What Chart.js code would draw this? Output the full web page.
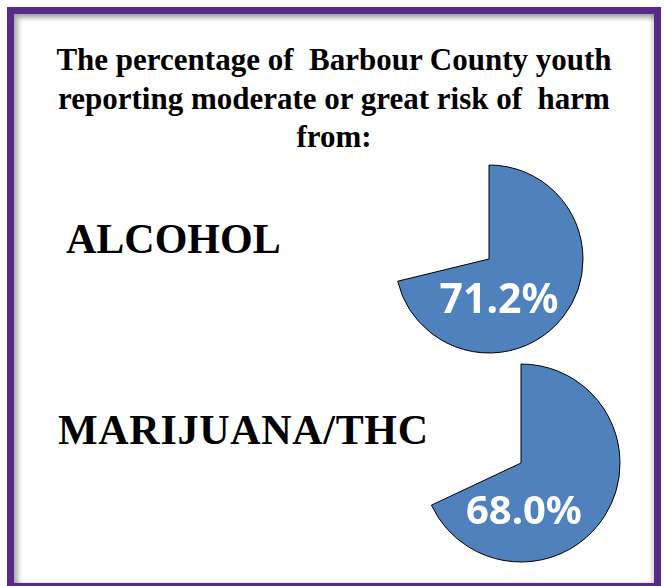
<!DOCTYPE html>
<html>
<head>
<meta charset="utf-8">
<script src="https://cdn.jsdelivr.net/npm/chart.js@4.4.1/dist/chart.umd.min.js"></script>
<style>
  html, body { margin: 0; padding: 0; background: #fff; width: 664px; height: 586px; overflow: hidden; }
  .frame {
    position: absolute; left: 7px; top: 7px; width: 654px; height: 583px;
    box-sizing: border-box; border: 7px solid #582a8a; background: #fff;
    box-shadow: inset 4px 4px 5px rgba(0,0,0,0.32), inset -2px 0 4px rgba(0,0,0,0.18);
  }
  .title {
    position: absolute; left: 7px; width: 654px; top: 41px; text-align: center;
    font-family: "Liberation Serif", serif; font-weight: bold; font-size: 31px;
    line-height: 38.5px; color: #000;
  }
  .label {
    position: absolute; font-family: "Liberation Serif", serif; font-weight: bold;
    font-size: 42px; line-height: 42px; color: #000; white-space: nowrap;
  }
  canvas { position: absolute; }
</style>
</head>
<body>
<div class="frame"></div>
<div class="title">The percentage of&nbsp; Barbour County youth<br>reporting moderate or great risk of&nbsp; harm<br>from:</div>
<div class="label" id="label0" style="left:66px; top:218px;"></div>
<div class="label" id="label1" style="left:58px; top:409px; letter-spacing:0.7px;"></div>
<canvas id="pie0" width="200" height="200" style="left:389px; top:159px;"></canvas>
<canvas id="pie1" width="210" height="210" style="left:416px; top:358px;"></canvas>
<script>
  // values
  const substances = ['ALCOHOL', 'MARIJUANA/THC'];
  const riskPercent = [71.2, 68.0];

  const sliceColor = '#4F81BD';

  // draws the white percentage inside the filled slice
  const valueLabel = {
    id: 'valueLabel',
    afterDatasetsDraw(chart, args, opts) {
      const arc = chart.getDatasetMeta(0).data[0];
      const value = chart.data.datasets[0].data[0];
      const r = arc.outerRadius;
      const ctx = chart.ctx;
      ctx.save();
      ctx.fillStyle = '#fff';
      ctx.font = 'bold ' + opts.size + 'px "Noto Sans", "Open Sans", sans-serif';
      ctx.textAlign = 'center';
      ctx.textBaseline = 'middle';
      ctx.fillText(value.toFixed(1) + '%', arc.x + opts.dx * r, arc.y + opts.dy * r);
      ctx.restore();
    }
  };

  function makePie(id, value, radius, dx, dy, size) {
    return new Chart(document.getElementById(id), {
      type: 'pie',
      data: {
        labels: ['Moderate or great risk', 'Other'],
        datasets: [{
          data: [value, 100 - value],
          backgroundColor: [sliceColor, 'rgba(0,0,0,0)'],
          borderColor: ['#000', 'rgba(0,0,0,0)'],
          borderWidth: [1, 0],
          radius: radius
        }]
      },
      options: {
        responsive: false,
        maintainAspectRatio: false,
        animation: false,
        events: [],
        layout: { padding: 0 },
        plugins: {
          legend: { display: false },
          tooltip: { enabled: false },
          valueLabel: { dx: dx, dy: dy, size: size }
        }
      },
      plugins: [valueLabel]
    });
  }

  substances.forEach(function(name, i) {
    document.getElementById('label' + i).textContent = name;
  });

  makePie('pie0', riskPercent[0], 94, 0.106, 0.447, 41);
  makePie('pie1', riskPercent[1], 99, 0.03, 0.5, 40);
</script>
</body>
</html>
